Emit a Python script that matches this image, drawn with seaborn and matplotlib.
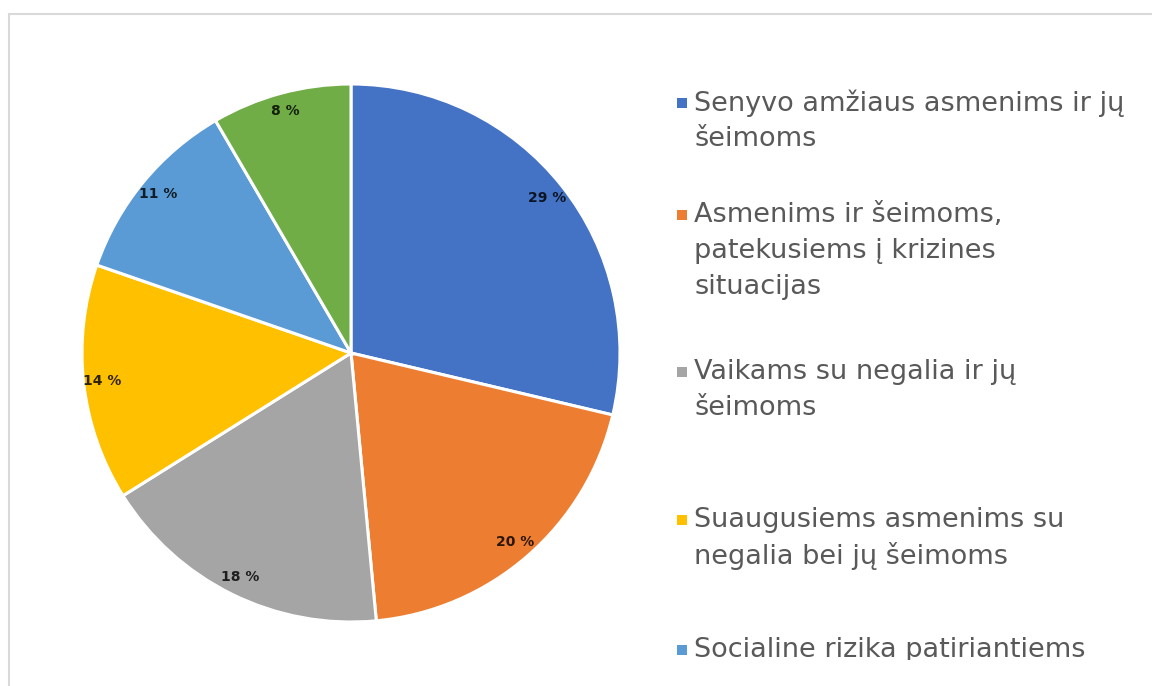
"""
Pie chart: distribution of social services recipients (share, %)
"""

import matplotlib
matplotlib.use("Agg")
import matplotlib.pyplot as plt
from matplotlib.patches import Rectangle
from matplotlib.transforms import Bbox
import seaborn as sns

# Data (slice shares)
shares = [28.7, 19.8, 17.6, 14.2, 11.3, 8.4]
slice_colors = ["#4472C4", "#ED7D31", "#A5A5A5", "#FFC000", "#5B9BD5", "#70AD47"]
legend_labels = [
    "Senyvo amžiaus asmenims ir jų\nšeimoms",
    "Asmenims ir šeimoms,\npatekusiems į krizines\nsituacijas",
    "Vaikams su negalia ir jų\nšeimoms",
    "Suaugusiems asmenims su\nnegalia bei jų šeimoms",
    "Socialine rizika patiriantiems",
]

sns.set_theme(style="white")
plt.rcParams["font.family"] = ["DejaVu Sans"]

W, H = 1152, 686
fig = plt.figure(figsize=(W / 100, H / 100), dpi=100)
fig.patch.set_facecolor("white")

# light frame around the chart area (runs off right / bottom edge)
fig.patches.append(Rectangle((9 / W, -0.2), 1.3, 1.2 - 14 / H, transform=fig.transFigure,
                             fill=False, edgecolor="#d9d9d9", linewidth=1.5))

# pie axes: centre (351, 353) px, radius 269 px
cx, cy, r = 351, 353, 269
ax = fig.add_axes([(cx - r) / W, (H - cy - r) / H, 2 * r / W, 2 * r / H])
palette = sns.color_palette(slice_colors)
wedges, texts, autotexts = ax.pie(
    shares, colors=palette, startangle=90, counterclock=False,
    autopct=lambda p: f"{p:.0f} %", pctdistance=0.93,
    wedgeprops={"edgecolor": "white", "linewidth": 2.2},
)
for t in autotexts:
    t.set_fontsize(10)
    t.set_fontweight("bold")
    t.set_color((0, 0, 0, 0.82))
ax.set_xlim(-1, 1)
ax.set_ylim(-1, 1)
ax.axis("off")

# legend drawn as text, marker next to the first line of each entry;
# the legend is cut off at the bottom of the chart area, as in the original
cut = Bbox.from_extents(0, H - 660, W, H)
first_line_px = [103, 215, 372, 520, 650]
line_step = 36
for lab, col, y0 in zip(legend_labels, palette, first_line_px):
    fig.patches.append(Rectangle((677 / W, 1 - (y0 + 5) / H), 10 / W, 10 / H,
                                 transform=fig.transFigure, facecolor=col, edgecolor="none"))
    for k, line in enumerate(lab.split("\n")):
        txt = fig.text(694 / W, 1 - (y0 + k * line_step) / H, line, fontsize=19.5,
                       color="#595959", ha="left", va="center")
        txt.set_clip_box(cut)
        txt.set_clip_on(True)

fig.savefig("out.png", dpi=100)
